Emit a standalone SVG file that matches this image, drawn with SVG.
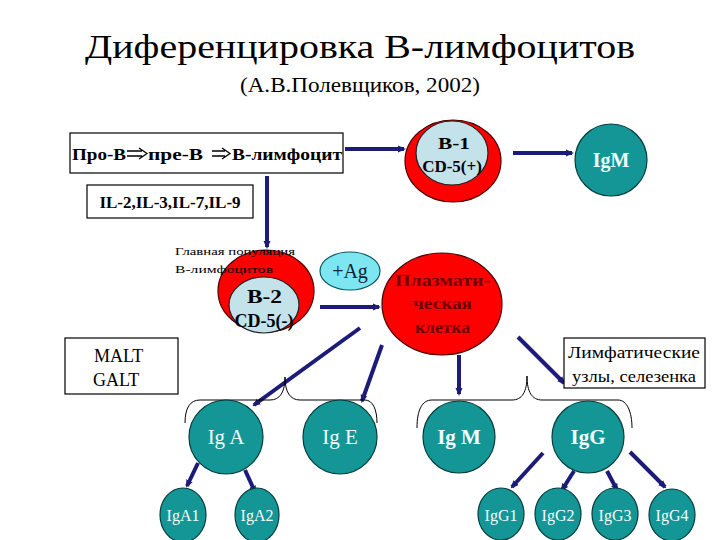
<svg xmlns="http://www.w3.org/2000/svg" width="720" height="540" viewBox="0 0 720 540" font-family="'Liberation Serif', serif">
<rect width="720" height="540" fill="#fff"/>
<g id="title">
<text x="85" y="58" font-size="34" textLength="550" lengthAdjust="spacingAndGlyphs" font-family="'Liberation Serif', serif">Диференцировка В-лимфоцитов</text>
<text x="240" y="92" font-size="21" textLength="240" lengthAdjust="spacingAndGlyphs" font-family="'Liberation Serif', serif">(А.В.Полевщиков, 2002)</text>
</g>
<g id="connectors" stroke="#1c1c78" stroke-width="4" fill="none">
<defs>
<marker id="ah" markerWidth="8" markerHeight="8" refX="6" refY="4" orient="auto" markerUnits="userSpaceOnUse">
<path d="M0,0.5 L8,4 L0,7.5 Z" fill="#1c1c78" stroke="none"/>
</marker>
</defs>
<line marker-end="url(#ah)" x1="345" y1="149" x2="404" y2="149"/>
<line marker-end="url(#ah)" x1="513" y1="153" x2="572" y2="153"/>
<line marker-end="url(#ah)" x1="267" y1="176" x2="267" y2="247"/>
<line marker-end="url(#ah)" x1="320" y1="307" x2="379" y2="307"/>
<line marker-end="url(#ah)" x1="360" y1="328" x2="254" y2="405"/>
<line marker-end="url(#ah)" x1="382" y1="345" x2="362" y2="401"/>
<line marker-end="url(#ah)" x1="459" y1="355" x2="459" y2="394"/>
<line marker-end="url(#ah)" x1="518" y1="337" x2="564" y2="383"/>
<line marker-end="url(#ah)" x1="198" y1="463" x2="187" y2="486"/>
<line marker-end="url(#ah)" x1="245" y1="470" x2="255" y2="492"/>
<line marker-end="url(#ah)" x1="543" y1="453" x2="512" y2="487"/>
<line marker-end="url(#ah)" x1="574" y1="471" x2="562" y2="490"/>
<line marker-end="url(#ah)" x1="607" y1="471" x2="617" y2="490"/>
<line marker-end="url(#ah)" x1="630" y1="452" x2="665" y2="487"/>
<path stroke="#000" stroke-width="1" d="M185,423 C185,408 190,400 200,400 L270,400 C280,400 285,392 285,377 C285,392 290,400 300,400 L365,400 C373,400 377,410 377,423"/>
<path stroke="#000" stroke-width="1" d="M417,428 C417,410 422,400 432,400 L512,400 C522,400 527,392 527,376 C527,392 532,400 542,400 L618,400 C627,400 632,412 632,428"/>
</g>
<g id="box-pro">
<rect fill="#fff" stroke="#000" stroke-width="1.2" x="70" y="133" width="273" height="40"/>
<text x="72" y="160" font-size="17" font-weight="bold" textLength="54" lengthAdjust="spacingAndGlyphs">Про-В</text>
<text x="148" y="160" font-size="17" font-weight="bold" textLength="55" lengthAdjust="spacingAndGlyphs">пре-В</text>
<text x="232" y="160" font-size="17" font-weight="bold" textLength="110" lengthAdjust="spacingAndGlyphs">В-лимфоцит</text>
<path d="M127,151 L142,151 M127,156 L142,156 M139,148 L147,153.5 L139,159" fill="none" stroke="#000" stroke-width="1.3"/>
<path d="M212,151 L225,151 M212,156 L225,156 M222,148 L230,153.5 L222,159" fill="none" stroke="#000" stroke-width="1.3"/>
</g>
<g id="box-il">
<rect fill="#fff" stroke="#000" stroke-width="1.2" x="87" y="185" width="166" height="33"/>
<text x="170" y="208" font-size="17" font-weight="bold" text-anchor="middle">IL-2,IL-3,IL-7,IL-9</text>
</g>
<g id="b1">
<ellipse fill="#ff0000" stroke="#4a0000" stroke-width="1.2" cx="453" cy="161" rx="48" ry="41"/>
<ellipse fill="#c4e2ea" stroke="#222" stroke-width="1.2" cx="452" cy="153" rx="36" ry="32"/>
<text x="438" y="149" font-size="17" font-weight="bold" textLength="32" lengthAdjust="spacingAndGlyphs">В-1</text>
<text x="452" y="172" font-size="17" font-weight="bold" text-anchor="middle">CD-5(+)</text>
</g>
<g id="igm-top">
<circle fill="#149696" stroke="#063c3c" stroke-width="1.2" cx="611" cy="160" r="36"/>
<text fill="#f2ffff" x="611" y="167" font-size="20" font-weight="bold" text-anchor="middle">IgM</text>
</g>
<g id="b2">
<ellipse fill="#ff0000" stroke="#4a0000" stroke-width="1.2" cx="266" cy="291" rx="48" ry="41"/>
<ellipse fill="#c4e2ea" stroke="#222" stroke-width="1.2" cx="264" cy="305" rx="35" ry="28"/>
<text x="175" y="255" font-size="11" textLength="120" lengthAdjust="spacingAndGlyphs">Главная популяция</text>
<text x="175" y="273" font-size="11" textLength="98" lengthAdjust="spacingAndGlyphs">В-лимфоцитов</text>
<text x="247" y="303" font-size="18" font-weight="bold" textLength="35" lengthAdjust="spacingAndGlyphs">В-2</text>
<text x="264" y="327" font-size="18" font-weight="bold" text-anchor="middle">CD-5(-)</text>
</g>
<g id="ag">
<ellipse fill="#7ee6f0" stroke="#0a5a66" stroke-width="1.2" cx="350" cy="271" rx="30" ry="19"/>
<text x="350" y="278" font-size="20" text-anchor="middle" fill="#123">+Ag</text>
</g>
<g id="plasma">
<ellipse fill="#ff0000" stroke="#4a0000" stroke-width="1.2" cx="442" cy="304" rx="60" ry="51"/>
<text fill="#6a0000" x="395" y="286" font-size="16" font-weight="bold" textLength="95" lengthAdjust="spacingAndGlyphs">Плазмати-</text>
<text fill="#6a0000" x="413" y="309" font-size="16" font-weight="bold" textLength="59" lengthAdjust="spacingAndGlyphs">ческая</text>
<text fill="#6a0000" x="415" y="333" font-size="16" font-weight="bold" textLength="55" lengthAdjust="spacingAndGlyphs">клетка</text>
</g>
<g id="malt">
<rect fill="#fff" stroke="#000" stroke-width="1.2" x="65" y="338" width="113" height="56"/>
<text x="94" y="362" font-size="18">MALT</text>
<text x="93" y="386" font-size="18">GALT</text>
</g>
<g id="lymph">
<rect fill="#fff" stroke="#000" stroke-width="1.2" x="564" y="338" width="141" height="50"/>
<text x="568" y="358" font-size="16" textLength="132" lengthAdjust="spacingAndGlyphs">Лимфатические</text>
<text x="572" y="382" font-size="16" textLength="124" lengthAdjust="spacingAndGlyphs">узлы, селезенка</text>
</g>
<g id="iga">
<circle fill="#149696" stroke="#063c3c" stroke-width="1.2" cx="226" cy="437" r="37"/>
<text fill="#f2ffff" x="226" y="444" font-size="21" text-anchor="middle">Ig A</text>
</g>
<g id="ige">
<circle fill="#149696" stroke="#063c3c" stroke-width="1.2" cx="340" cy="437" r="37"/>
<text fill="#f2ffff" x="340" y="444" font-size="21" text-anchor="middle">Ig E</text>
</g>
<g id="igm">
<circle fill="#149696" stroke="#063c3c" stroke-width="1.2" cx="459" cy="437" r="36"/>
<text fill="#f2ffff" x="459" y="444" font-size="21" font-weight="bold" text-anchor="middle">Ig M</text>
</g>
<g id="igg">
<circle fill="#149696" stroke="#063c3c" stroke-width="1.2" cx="588" cy="437" r="36"/>
<text fill="#f2ffff" x="588" y="444" font-size="21" font-weight="bold" text-anchor="middle">IgG</text>
</g>
<g id="iga1">
<ellipse fill="#149696" stroke="#063c3c" stroke-width="1.2" cx="183" cy="515" rx="23" ry="27"/>
<text fill="#f2ffff" x="183" y="521" font-size="16" text-anchor="middle">IgA1</text>
</g>
<g id="iga2">
<ellipse fill="#149696" stroke="#063c3c" stroke-width="1.2" cx="257" cy="515" rx="22" ry="27"/>
<text fill="#f2ffff" x="257" y="521" font-size="16" text-anchor="middle">IgA2</text>
</g>
<g id="igg1">
<ellipse fill="#149696" stroke="#063c3c" stroke-width="1.2" cx="501" cy="514" rx="23" ry="26"/>
<text fill="#f2ffff" x="501" y="521" font-size="16" text-anchor="middle">IgG1</text>
</g>
<g id="igg2">
<ellipse fill="#149696" stroke="#063c3c" stroke-width="1.2" cx="558" cy="514" rx="23" ry="26"/>
<text fill="#f2ffff" x="558" y="521" font-size="16" text-anchor="middle">IgG2</text>
</g>
<g id="igg3">
<ellipse fill="#149696" stroke="#063c3c" stroke-width="1.2" cx="615" cy="514" rx="23" ry="26"/>
<text fill="#f2ffff" x="615" y="521" font-size="16" text-anchor="middle">IgG3</text>
</g>
<g id="igg4">
<ellipse fill="#149696" stroke="#063c3c" stroke-width="1.2" cx="672" cy="515" rx="23" ry="26"/>
<text fill="#f2ffff" x="672" y="521" font-size="16" text-anchor="middle">IgG4</text>
</g>
</svg>
